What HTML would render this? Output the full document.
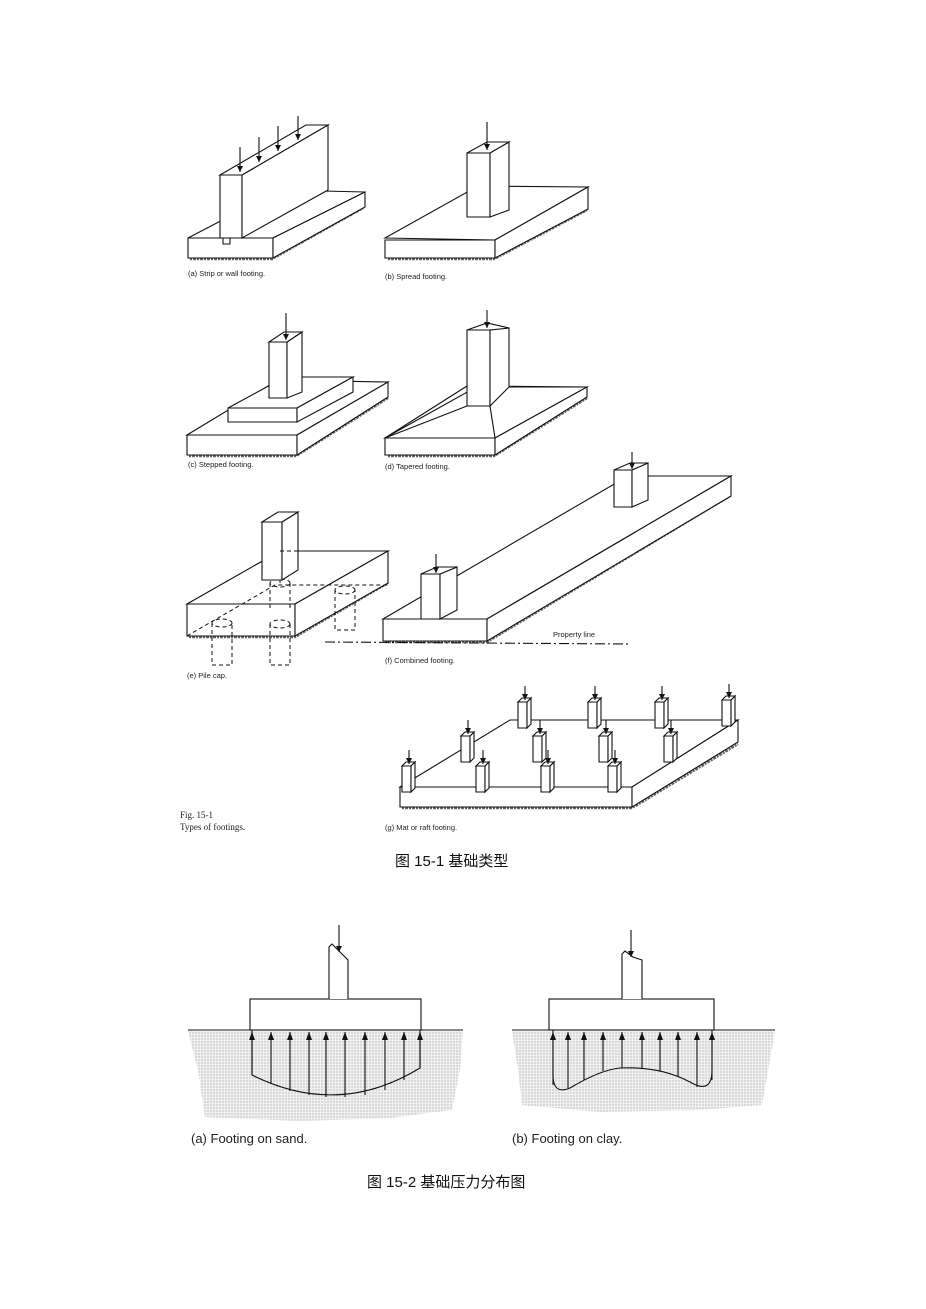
<!DOCTYPE html>
<html><head><meta charset="utf-8"><style>
html,body{margin:0;padding:0;background:#fff}
svg{display:block}
.l{fill:none;stroke:#111;stroke-width:1.1}
.f{fill:#fff;stroke:#111;stroke-width:1.1}
.d{fill:none;stroke:#111;stroke-width:1;stroke-dasharray:4 3}
.h{fill:none;stroke:#666;stroke-width:2.5;stroke-dasharray:2 1 3 1}
.t{font-family:"Liberation Sans",sans-serif;font-size:7.5px;fill:#222}
.s{font-family:"Liberation Serif",serif;font-size:9px;fill:#222}
.c{font-family:"Liberation Sans","Noto Sans CJK SC",sans-serif;font-size:15px;fill:#111}
.b{font-family:"Liberation Sans",sans-serif;font-size:13px;fill:#222}
</style></head><body>
<svg width="926" height="1309" viewBox="0 0 926 1309" xmlns="http://www.w3.org/2000/svg">
<defs>
<marker id="ad" viewBox="0 0 6 6" markerWidth="6" markerHeight="6" refX="6" refY="3" orient="auto" markerUnits="userSpaceOnUse"><path d="M0,0 L6,3 L0,6Z" fill="#111"/></marker>
<marker id="au" viewBox="0 0 6 8" markerWidth="6" markerHeight="8" refX="3" refY="0" orient="0" markerUnits="userSpaceOnUse"><path d="M0,8 L3,0 L6,8Z" fill="#111"/></marker>
<pattern id="dots" width="3" height="3" patternUnits="userSpaceOnUse"><rect width="3" height="3" fill="#f0f0f0"/><circle cx="1" cy="1" r="0.7" fill="#b5b5b5"/></pattern>
<g id="col">
<polygon class="f" points="0,4 9,4 9,30 0,30"/><polygon class="f" points="9,4 13,0 13,26 9,30"/><polygon class="f" points="0,4 4,0 13,0 9,4"/>
<path class="l" marker-end="url(#ad)" d="M7,-12 V2"/></g>
</defs>

<!-- (a) strip -->
<path class="h" d="M190,259 L272,259 L363,208"/>
<polygon class="f" points="188,238 273,238 365,192 280,190"/>
<polygon class="f" points="188,238 273,238 273,258 188,258"/>
<polygon class="f" points="273,238 365,192 365,207 273,258"/>
<polygon class="f" points="220,175 242,175 242,238 220,238"/>
<polygon class="f" points="242,175 328,125 328,190 242,238"/>
<polygon class="f" points="220,175 306,125 328,125 242,175"/>
<path class="l" d="M223,238 v6 h7 v-6"/>
<g class="l" marker-end="url(#ad)"><path d="M240,147 V172"/><path d="M259,137 V162"/><path d="M278,126 V151"/><path d="M298,116 V140"/></g>
<text class="t" x="188" y="276">(a)  Strip or wall footing.</text>

<!-- (b) spread -->
<path class="h" d="M388,259 L494,259 L587,210"/>
<polygon class="f" points="385,238 495,240 588,187 478,186"/>
<polygon class="f" points="385,240 495,240 495,258 385,258"/>
<polygon class="f" points="495,240 588,187 588,209 495,258"/>
<polygon class="f" points="467,153 490,153 490,217 467,217"/>
<polygon class="f" points="490,153 509,142 509,210 490,217"/>
<polygon class="f" points="467,153 487,142 509,142 490,153"/>
<path class="l" marker-end="url(#ad)" d="M487,122 V150"/>
<text class="t" x="385" y="279">(b)  Spread footing.</text>

<!-- (c) stepped -->
<path class="h" d="M189,456 L296,456 L388,398"/>
<polygon class="f" points="187,435 297,435 388,382 278,380"/>
<polygon class="f" points="187,435 297,435 297,455 187,455"/>
<polygon class="f" points="297,435 388,382 388,397 297,455"/>
<polygon class="f" points="228,408 297,408 353,377 285,377"/>
<polygon class="f" points="228,408 297,408 297,422 228,422"/>
<polygon class="f" points="297,408 353,377 353,392 297,422"/>
<polygon class="f" points="269,342 287,342 287,398 269,398"/>
<polygon class="f" points="287,342 302,332 302,392 287,398"/>
<polygon class="f" points="269,342 284,332 302,332 287,342"/>
<path class="l" marker-end="url(#ad)" d="M286,313 V340"/>
<text class="t" x="188" y="467">(c)  Stepped footing.</text>

<!-- (d) tapered -->
<path class="h" d="M388,456 L494,456 L587,398"/>
<polygon class="f" points="385,438 495,438 587,387 478,386"/>
<polygon class="f" points="385,438 495,438 495,455 385,455"/>
<polygon class="f" points="495,438 587,387 587,397 495,455"/>
<path class="l" d="M385,438 L467,406 M495,438 L490,406 M509,387 L587,387 M385,438 L467,386"/>
<polygon class="f" points="467,330 490,330 490,406 467,406"/>
<polygon class="f" points="490,330 509,328 509,387 490,406"/>
<polygon class="f" points="467,330 487,323 509,328 490,330"/>
<path class="l" marker-end="url(#ad)" d="M487,310 V328"/>
<text class="t" x="385" y="469">(d)  Tapered footing.</text>

<!-- (e) pile cap -->
<path class="h" d="M189,637 L295,637 L388,583"/>
<polygon class="f" points="187,604 295,604 388,551 280,551"/>
<polygon class="f" points="187,604 295,604 295,636 187,636"/>
<polygon class="f" points="295,604 388,551 388,583 295,636"/>
<path class="d" d="M187,636 L275,585 L388,585 M280,551 L280,585"/>
<g class="d"><ellipse cx="222" cy="623" rx="10" ry="4"/><path d="M212,623 V665 h20 V623"/>
<ellipse cx="280" cy="624" rx="10" ry="4"/><path d="M270,624 V665 h20 V624"/>
<ellipse cx="280" cy="583" rx="10" ry="4"/><path d="M270,583 V610 M290,583 V610"/>
<ellipse cx="345" cy="590" rx="10" ry="4"/><path d="M335,590 V630 h20 V590"/></g>
<polygon class="f" points="262,522 282,522 282,580 262,580"/>
<polygon class="f" points="282,522 298,512 298,570 282,580"/>
<polygon class="f" points="262,522 278,512 298,512 282,522"/>
<path class="d" d="M280,551 L298,551"/>
<text class="t" x="187" y="678">(e)  Pile cap.</text>

<!-- (f) combined -->
<path class="h" d="M385,642 L487,642 L730,496"/>
<polygon class="f" points="383,619 487,619 731,476 628,476"/>
<polygon class="f" points="383,619 487,619 487,641 383,641"/>
<polygon class="f" points="487,619 731,476 731,496 487,641"/>
<polygon class="f" points="421,574 440,574 440,619 421,619"/>
<polygon class="f" points="440,574 457,567 457,610 440,619"/>
<polygon class="f" points="421,574 437,567 457,567 440,574"/>
<path class="l" marker-end="url(#ad)" d="M436,554 V573"/>
<polygon class="f" points="614,470 632,470 632,507 614,507"/>
<polygon class="f" points="632,470 648,463 648,500 632,507"/>
<polygon class="f" points="614,470 630,463 648,463 632,470"/>
<path class="l" marker-end="url(#ad)" d="M632,452 V469"/>
<path class="l" stroke-dasharray="10 3 2 3" d="M325,642 L630,644"/>
<text class="t" x="553" y="637">Property line</text>
<text class="t" x="385" y="663">(f)  Combined footing.</text>

<!-- (g) mat -->
<path class="h" d="M402,808 L632,808 L738,744"/>
<polygon class="f" points="400,787 632,787 738,720 510,720"/>
<polygon class="f" points="400,787 632,787 632,807 400,807"/>
<polygon class="f" points="632,787 738,720 738,742 632,807"/>
<use href="#col" x="518" y="698"/><use href="#col" x="588" y="698"/><use href="#col" x="655" y="698"/><use href="#col" x="722" y="696"/>
<use href="#col" x="461" y="732"/><use href="#col" x="533" y="732"/><use href="#col" x="599" y="732"/><use href="#col" x="664" y="732"/>
<use href="#col" x="402" y="762"/><use href="#col" x="476" y="762"/><use href="#col" x="541" y="762"/><use href="#col" x="608" y="762"/>
<text class="t" x="385" y="830">(g)  Mat or raft footing.</text>
<text class="s" x="180" y="818">Fig. 15-1</text>
<text class="s" x="180" y="830">Types of footings.</text>

<text class="c" x="395" y="866">图 15-1  基础类型</text>

<!-- Fig 15-2 (a) -->
<path d="M188,1031 L463,1031 L460,1070 L452,1110 L390,1118 L300,1121 L205,1117 L198,1070 Z" fill="url(#dots)"/>
<path class="l" d="M188,1030 H463"/>
<path class="l" d="M252,1030 V1075 Q338,1118 420,1068 V1030"/>
<g class="l" marker-start="url(#au)">
<path d="M252,1032 V1075"/><path d="M271,1032 V1084"/><path d="M290,1032 V1091"/><path d="M309,1032 V1095"/><path d="M326,1032 V1097"/><path d="M345,1032 V1097"/><path d="M365,1032 V1095"/><path d="M385,1032 V1090"/><path d="M404,1032 V1080"/><path d="M420,1032 V1068"/></g>
<rect class="f" x="250" y="999" width="171" height="31"/>
<path class="f" d="M329,999 V947 L332,944 L340,952 L348,960 V999"/>
<path class="l" marker-end="url(#ad)" d="M339,925 V952"/>
<text class="b" x="191" y="1143">(a)  Footing on sand.</text>

<!-- Fig 15-2 (b) -->
<path d="M512,1031 L775,1031 L768,1070 L762,1105 L700,1110 L600,1112 L522,1105 L518,1070 Z" fill="url(#dots)"/>
<path class="l" d="M512,1030 H775"/>
<path class="l" d="M553,1030 V1075 Q553,1095 570,1088 Q600,1070 620,1068 Q660,1066 690,1082 Q712,1095 712,1070 V1030"/>
<g class="l" marker-start="url(#au)">
<path d="M553,1032 V1085"/><path d="M568,1032 V1088"/><path d="M584,1032 V1080"/><path d="M603,1032 V1071"/><path d="M622,1032 V1068"/><path d="M642,1032 V1068"/><path d="M660,1032 V1071"/><path d="M678,1032 V1077"/><path d="M697,1032 V1087"/><path d="M712,1032 V1080"/></g>
<rect class="f" x="549" y="999" width="165" height="31"/>
<path class="f" d="M622,999 V954 L625,951 L633,957 L642,960 V999"/>
<path class="l" marker-end="url(#ad)" d="M631,930 V957"/>
<text class="b" x="512" y="1143">(b)  Footing on clay.</text>

<text class="c" x="367" y="1187">图 15-2  基础压力分布图</text>
</svg>
</body></html>
